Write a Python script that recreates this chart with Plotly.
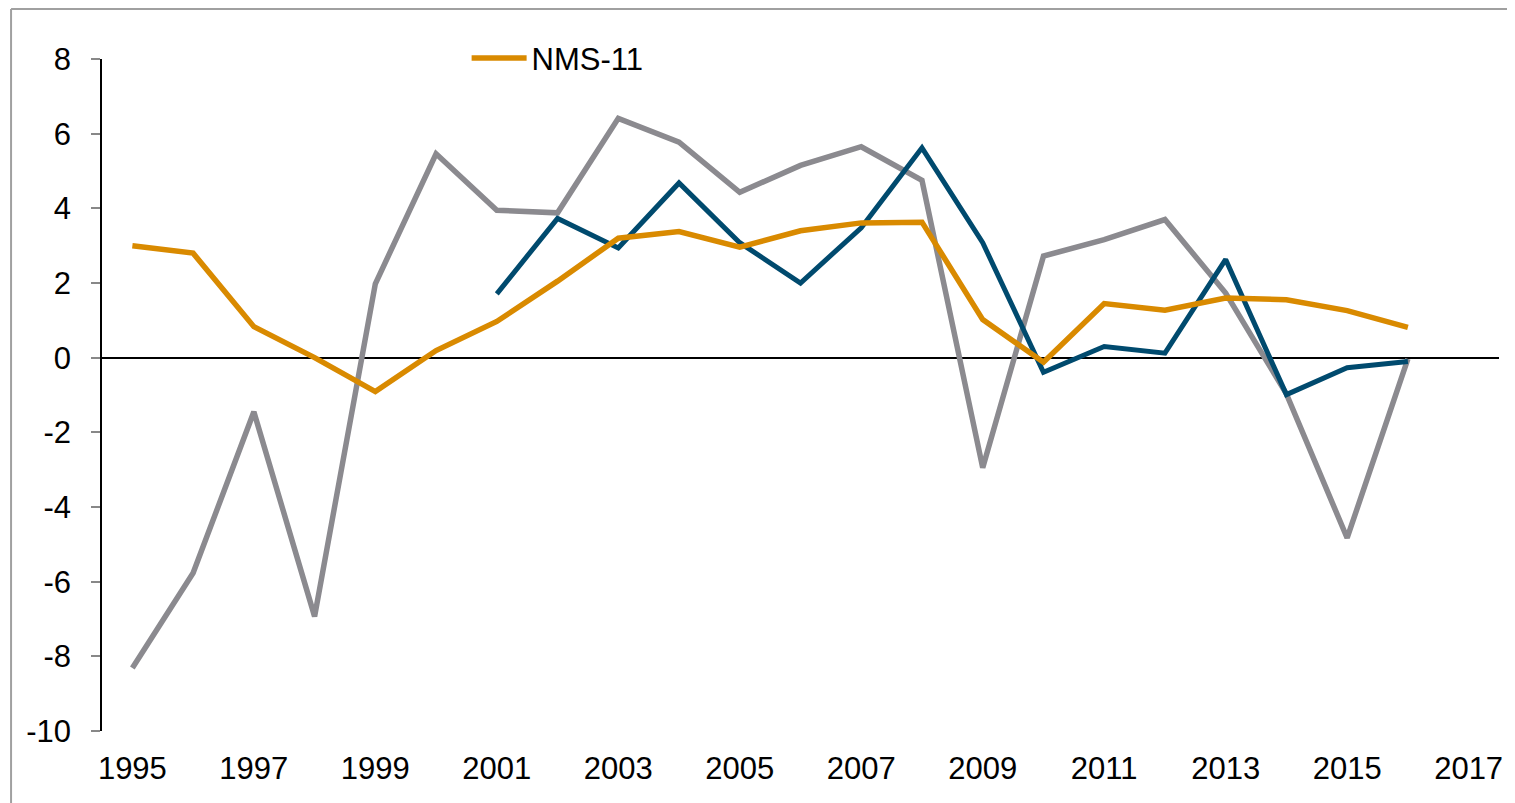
import plotly.graph_objects as go

years = list(range(1995, 2017))
nms11 = [3.0, 2.8, 0.83, 0.0, -0.91, 0.19, 0.97, 2.05, 3.2, 3.38, 2.96, 3.4, 3.61, 3.63,
         1.02, -0.12, 1.45, 1.27, 1.6, 1.55, 1.26, 0.81]
gray_vals = [-8.31, -5.77, -1.45, -6.93, 1.98, 5.46, 3.95, 3.88, 6.41, 5.77, 4.43, 5.15, 5.65, 4.75,
             -2.95, 2.72, 3.16, 3.70, 1.73, -0.97, -4.83, -0.03]
blue_years = list(range(2001, 2017))
blue_vals = [1.71, 3.73, 2.94, 4.68, 3.08, 2.0, 3.48, 5.62, 3.08, -0.39, 0.30, 0.12, 2.63, -0.99,
             -0.27, -0.1]
x_ticks = list(range(1995, 2018, 2))
y_ticks = list(range(-10, 9, 2))
y_labels = [str(v) for v in y_ticks]  # plain hyphen minus, as in the original

orange = "#D98A00"
blue = "#004A6E"
gray = "#8B8A8F"

fig = go.Figure()
fig.add_trace(go.Scatter(x=years, y=gray_vals, mode="lines", line=dict(color=gray, width=5.5),
                         showlegend=False))
fig.add_trace(go.Scatter(x=blue_years, y=blue_vals, mode="lines", line=dict(color=blue, width=5),
                         showlegend=False))
fig.add_trace(go.Scatter(x=years, y=nms11, mode="lines", name="NMS-11",
                         line=dict(color=orange, width=5.5)))

# page body adds an 8px offset, so margins are 8px smaller on left/top
fig.update_layout(
    width=1515, height=803,
    margin=dict(l=94, r=24, t=51, b=80, autoexpand=False),
    paper_bgcolor="white", plot_bgcolor="white",
    font=dict(family="Liberation Sans, Arial", size=31, color="black"),
    legend=dict(x=0.261, y=1.001, xanchor="left", yanchor="middle", bgcolor="rgba(0,0,0,0)",
                font=dict(size=31), itemwidth=55),
)
fig.update_xaxes(range=[1994.5, 2017.5], tickvals=x_ticks, showgrid=False, zeroline=False,
                 showline=False, ticks="", ticklabelstandoff=16)
fig.update_yaxes(range=[-10, 8], tickvals=y_ticks, ticktext=y_labels, showgrid=False,
                 zeroline=True, zerolinecolor="black", zerolinewidth=1.5, showline=True,
                 linecolor="black", linewidth=1.5, ticks="outside", ticklen=9,
                 tickcolor="#888888", tickwidth=1.5, ticklabelstandoff=14)

# outer frame (top and left edges)
fig.add_shape(type="line", xref="paper", yref="paper", x0=-0.0651, x1=1.05, y0=1.0745, y1=1.0745,
              line=dict(color="#A0A0A0", width=2))
fig.add_shape(type="line", xref="paper", yref="paper", x0=-0.0651, x1=-0.0651, y0=1.0745, y1=-0.15,
              line=dict(color="#A0A0A0", width=2))

fig.write_html("out.html")
